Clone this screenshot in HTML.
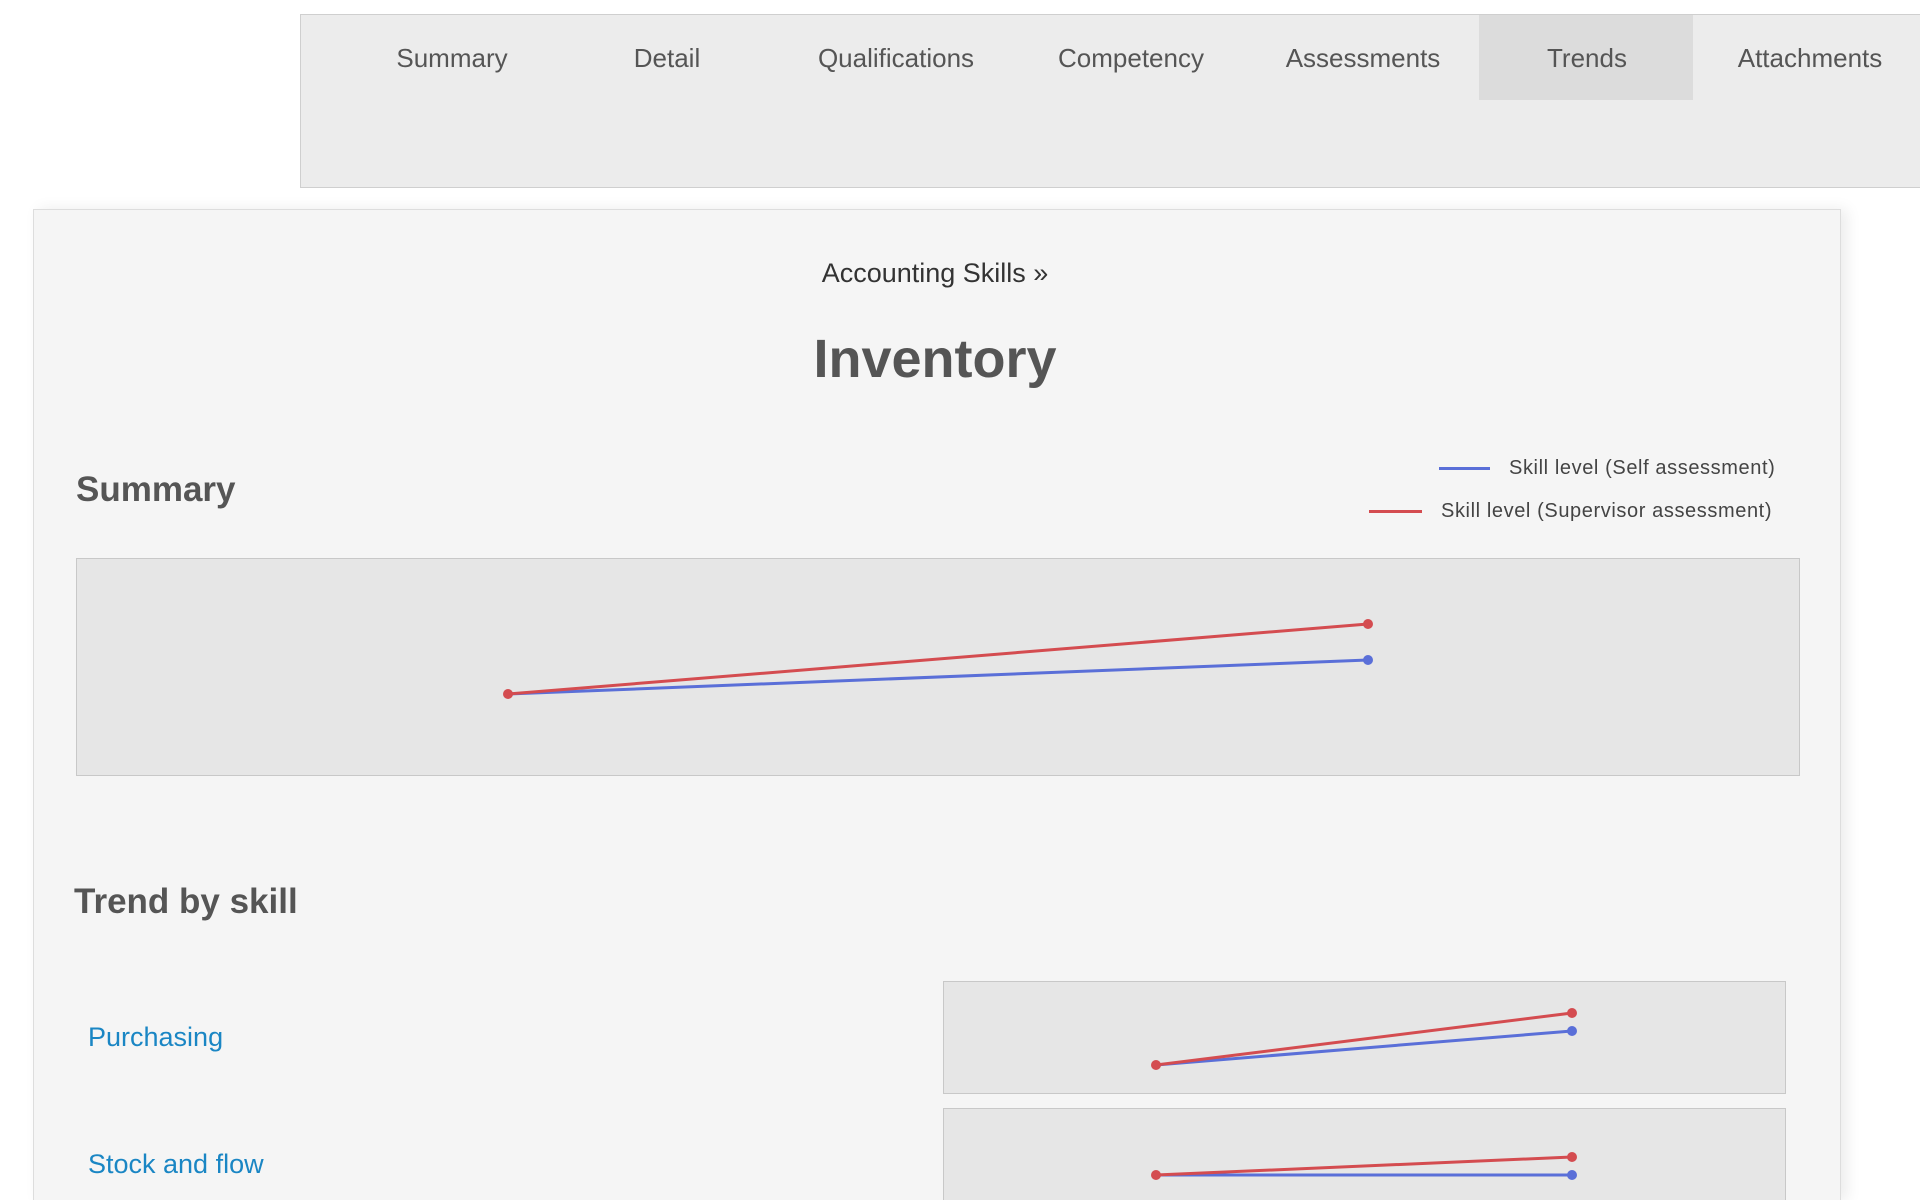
<!DOCTYPE html>
<html><head><meta charset="utf-8"><style>
html,body{margin:0;width:1920px;height:1200px;overflow:hidden}
body{background:#fff;position:relative;font-family:"Liberation Sans",sans-serif}
.abs{position:absolute;white-space:nowrap}
.tabbar{position:absolute;left:300px;top:14px;width:1630px;height:172px;background:#ececec;border:1px solid #cfcfcf}
.trend{position:absolute;left:1479px;top:15px;width:214px;height:85px;background:#dcdcdc}
.tab{position:absolute;top:43px;font-size:26px;color:#555;transform:translateX(-50%)}
.panel{position:absolute;left:33px;top:209px;width:1806px;height:991px;background:#f5f5f5;border:1px solid #ddd;border-bottom:none;box-shadow:6px 0 14px rgba(0,0,0,0.08)}
.box{position:absolute;background:#e6e6e6;border:1px solid #c8c8c8}
</style></head><body>
<div class="tabbar"></div>
<div class="trend"></div>
<div class="tab" style="left:452px">Summary</div>
<div class="tab" style="left:667px">Detail</div>
<div class="tab" style="left:896px">Qualifications</div>
<div class="tab" style="left:1131px">Competency</div>
<div class="tab" style="left:1363px">Assessments</div>
<div class="tab" style="left:1587px">Trends</div>
<div class="tab" style="left:1810px">Attachments</div>
<div class="panel"></div>
<div class="abs" style="left:0;width:1870px;text-align:center;top:258px;font-size:27px;color:#333">Accounting Skills »</div>
<div class="abs" style="left:0;width:1870px;text-align:center;top:328px;font-size:54px;font-weight:bold;color:#555">Inventory</div>
<div class="abs" style="left:76px;top:470px;font-size:35px;font-weight:bold;color:#555">Summary</div>
<div class="abs" style="left:1439px;top:467px;width:51px;height:3px;background:#5a6fd8"></div>
<div class="abs" style="left:1509px;top:457px;font-size:20px;color:#444;letter-spacing:0.6px">Skill level (Self assessment)</div>
<div class="abs" style="left:1369px;top:510px;width:53px;height:3px;background:#d44c50"></div>
<div class="abs" style="left:1441px;top:500px;font-size:20px;color:#444;letter-spacing:0.6px">Skill level (Supervisor assessment)</div>
<div class="box" style="left:76px;top:558px;width:1722px;height:216px"></div>
<div class="abs" style="left:74px;top:882px;font-size:35px;font-weight:bold;color:#555">Trend by skill</div>
<div class="abs" style="left:88px;top:1022px;font-size:27px;color:#1a86c4">Purchasing</div>
<div class="abs" style="left:88px;top:1149px;font-size:27px;color:#1a86c4">Stock and flow</div>
<div class="box" style="left:943px;top:981px;width:841px;height:111px"></div>
<div class="box" style="left:943px;top:1108px;width:841px;height:100px"></div>
<svg class="abs" style="left:0;top:0" width="1920" height="1200">
<g stroke-width="3" fill="none">
<line x1="508" y1="694" x2="1368" y2="660" stroke="#5a6fd8"/>
<line x1="508" y1="694" x2="1368" y2="624" stroke="#d44c50"/>
<line x1="1156" y1="1065" x2="1572" y2="1031" stroke="#5a6fd8"/>
<line x1="1156" y1="1065" x2="1572" y2="1013" stroke="#d44c50"/>
<line x1="1156" y1="1175" x2="1572" y2="1175" stroke="#5a6fd8"/>
<line x1="1156" y1="1175" x2="1572" y2="1157" stroke="#d44c50"/>
</g>
<g>
<circle cx="1368" cy="660" r="5" fill="#5a6fd8"/><circle cx="1368" cy="624" r="5" fill="#d44c50"/><circle cx="508" cy="694" r="5" fill="#d44c50"/>
<circle cx="1572" cy="1031" r="5" fill="#5a6fd8"/><circle cx="1572" cy="1013" r="5" fill="#d44c50"/><circle cx="1156" cy="1065" r="5" fill="#d44c50"/>
<circle cx="1572" cy="1175" r="5" fill="#5a6fd8"/><circle cx="1572" cy="1157" r="5" fill="#d44c50"/><circle cx="1156" cy="1175" r="5" fill="#d44c50"/>
</g>
</svg>
</body></html>
